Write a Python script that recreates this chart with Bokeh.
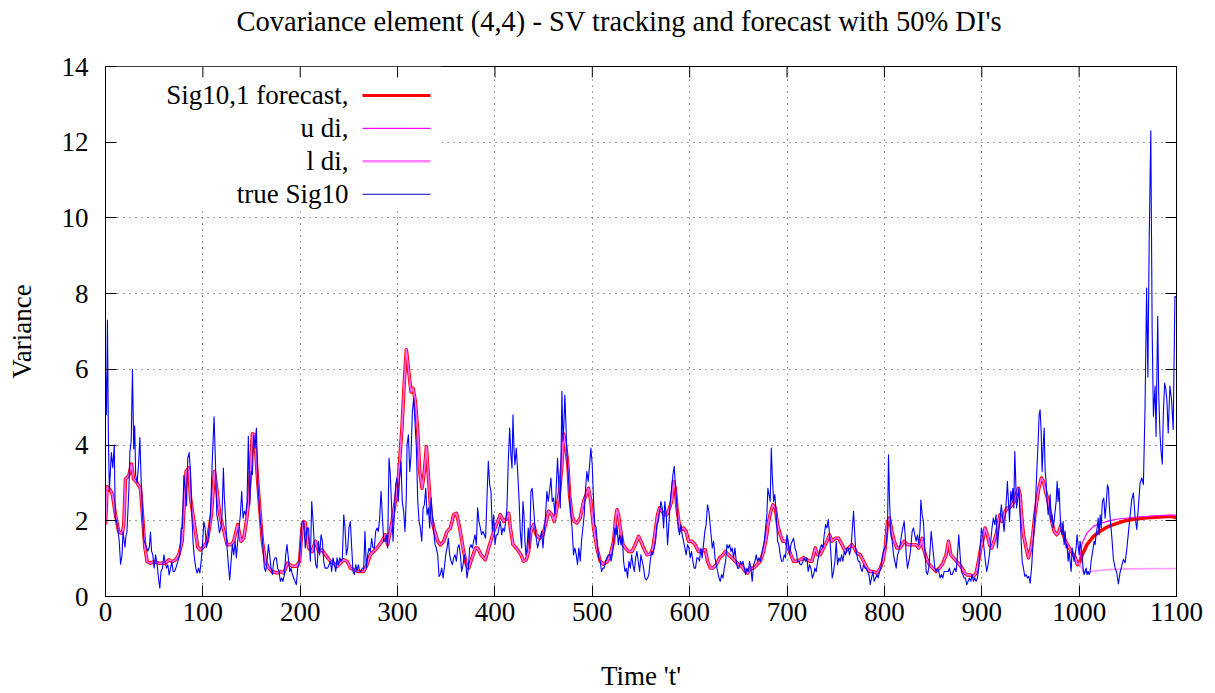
from bokeh.plotting import figure
from bokeh.models import Range1d, LinearAxis, SingleIntervalTicker, FixedTicker, Label, Title
from bokeh.embed import file_html
from bokeh.resources import INLINE

# ---- data -----------------------------------------------------------------
# true Sig10 (time, variance)
true_pts = [
    (0, 5.9), (1, 4.8), (2, 7.3), (3, 4.1), (4, 2.8), (6, 3.8), (7.5, 3.4), (9, 4.0), (10, 2.1), (12, 1.9),
    (14, 1.5), (15.5, 0.85), (17, 1.1), (18, 1.7), (20, 1.3), (21, 1.6), (22, 1.7), (24, 2.8), (25, 3.8),
    (26.4, 4.1), (27.7, 6.0), (29, 3.9), (30, 4.5), (31, 3.2), (32.5, 3.0), (34, 3.5), (35.3, 4.2), (36.7, 3.0),
    (38, 2.2), (39.4, 1.5), (40.8, 1.4), (42, 1.3), (43.5, 1.2), (45, 1.3), (46.2, 1.7), (47.3, 1.2), (48.6, 1.1),
    (50, 0.75), (51.4, 1.1), (53, 0.85), (54.4, 0.5), (55.8, 0.22), (57, 0.66), (58.5, 0.75), (60, 1.1),
    (61.3, 0.9), (62.7, 0.75), (64, 0.84), (65.4, 0.57), (66.8, 0.75), (68.1, 0.92), (69.5, 0.66), (70.9, 0.66),
    (72.2, 0.75), (74.3, 0.92), (76.3, 1.1), (77.7, 1.8), (79, 1.8), (80.5, 3.2), (81.8, 2.85), (83.2, 2.4),
    (84.5, 3.65), (85.9, 3.8), (87.3, 3.3), (88.7, 2.15), (90, 1.4), (91.4, 1.0), (92.8, 0.75), (94.1, 0.62),
    (95.5, 0.75), (96.9, 0.62), (98.2, 0.92), (99.6, 1.36), (101, 1.98), (102.3, 1.8), (103.7, 1.3), (105, 1.45),
    (106.4, 1.8), (107.8, 2.15), (109.5, 3.48), (111.5, 4.75), (112.9, 3.57), (114.3, 2.16), (115.6, 1.98),
    (117, 1.68), (118.4, 1.81), (119.7, 2.16), (121.1, 3.39), (122.1, 2.6), (123.5, 1.98), (124.9, 1.28),
    (126.2, 0.84), (127.6, 0.44), (129, 0.93), (130.3, 1.37), (131.7, 1.1), (133.1, 1.46), (134.4, 1.02),
    (135.8, 1.46), (137.2, 1.81), (138.5, 2.16), (139.9, 2.78), (141.3, 2.07), (142.6, 2.25), (144, 2.16),
    (145.4, 2.51), (146.7, 4.23), (148.1, 2.42), (149.5, 3.3), (150.9, 3.22), (152.2, 4.27), (153.6, 3.92),
    (155, 4.45), (156.3, 3.04), (157.7, 2.51), (159.1, 1.98), (160.4, 1.72), (161.8, 1.28), (163.2, 0.75),
    (164.5, 0.66), (165.9, 0.93), (167.3, 1.37), (168.6, 1.1), (170, 0.75), (171.4, 0.58), (172.7, 0.93),
    (174.1, 1.02), (175.5, 1.02), (176.8, 0.75), (178.2, 0.66), (179.6, 0.4), (181, 0.49), (182.3, 0.4),
    (183.7, 0.58), (185.1, 1.1), (186.4, 1.37), (187.8, 1.02), (189.2, 0.66), (190.5, 0.75), (191.9, 0.58),
    (193.3, 0.49), (194.6, 0.4), (196, 0.31), (197.4, 0.75), (198.7, 0.84), (200.1, 1.28), (201.8, 1.98),
    (203.5, 1.98), (205.2, 1.28), (206.9, 1.81), (208.6, 1.81), (210.4, 0.93), (211.8, 2.51), (213.2, 1.98),
    (214.6, 1.28), (215.9, 0.84), (217.3, 0.75), (218.7, 1.46), (220, 1.1), (221.4, 1.63), (222.8, 1.46),
    (224.1, 0.93), (225.5, 0.75), (226.9, 0.75), (228.2, 0.75), (229.6, 0.84), (231, 0.93), (232.3, 0.66),
    (233.7, 1.02), (235.1, 0.84), (236.5, 0.66), (237.8, 1.02), (239.2, 0.84), (240.6, 1.02), (241.9, 0.93),
    (243.3, 1.02), (244.7, 2.16), (246, 1.81), (247.4, 1.1), (248.8, 1.28), (250.1, 1.81), (251.5, 1.98),
    (252.9, 1.28), (254.2, 0.66), (255.6, 0.58), (257, 0.84), (258.3, 0.66), (259.7, 0.84), (261.1, 0.66),
    (262.4, 0.66), (263.8, 0.75), (265.2, 0.75), (266.5, 1.72), (267.9, 0.75), (269.3, 1.1), (270.6, 1.28),
    (272, 1.19), (273.4, 1.54), (274.7, 1.28), (276.1, 1.28), (277.5, 1.72), (278.9, 1.81), (280.2, 1.72),
    (281.6, 2.07), (283, 2.78), (284.3, 2.16), (285.7, 1.46), (287.1, 1.46), (288.4, 1.63), (289.8, 1.28),
    (291.2, 3.65), (292.5, 3.22), (293.9, 2.34), (295.3, 1.46), (296.6, 2.16), (298, 2.95), (299.4, 3.13),
    (300.7, 2.51), (302.1, 3.13), (303.5, 3.57), (304.8, 2.51), (306.2, 2.25), (307.6, 1.72), (308.9, 2.6),
    (309.7, 4.0), (311.1, 4.27), (312.5, 3.3), (313.8, 3.74), (315.2, 4.89), (316.6, 5.24), (318, 4.54),
    (319.3, 3.92), (320.7, 2.51), (322.1, 1.98), (323.4, 1.81), (324.8, 1.46), (326.2, 2.34), (327.5, 2.42),
    (328.9, 2.86), (330.3, 2.16), (331.6, 2.34), (333, 1.81), (334.4, 2.6), (335.7, 2.16), (337.1, 1.72),
    (338.5, 1.37), (339.8, 1.28), (341.2, 1.1), (342.6, 0.53), (343.9, 0.58), (345.3, 0.75), (346.7, 0.49),
    (348, 0.75), (349.4, 1.1), (350.8, 1.28), (352.1, 1.54), (353.5, 1.1), (354.9, 0.93), (356.3, 0.84),
    (357.6, 1.02), (359, 1.1), (360.4, 0.93), (361.7, 1.28), (363.1, 1.37), (364.5, 1.1), (365.8, 0.66),
    (367.2, 0.84), (368.6, 1.1), (369.9, 0.93), (371.3, 0.49), (372.7, 0.75), (374, 1.28), (375.4, 1.37),
    (376.8, 1.28), (378.1, 1.46), (379.5, 1.63), (380.9, 1.37), (382.2, 2.34), (383.6, 1.98), (385, 1.81),
    (386.3, 1.63), (387.7, 1.72), (389.1, 1.63), (390.4, 1.54), (391.8, 2.6), (393.2, 3.57), (394.6, 2.95),
    (395.9, 2.78), (397.3, 1.72), (398.7, 2.16), (400, 1.37), (401.4, 1.63), (402.8, 1.63), (404.1, 1.81),
    (405.5, 1.98), (406.9, 1.63), (408.2, 1.81), (409.6, 1.72), (411, 1.98), (412.3, 2.34), (413.7, 3.57),
    (415.1, 4.45), (416.4, 3.74), (417.5, 3.39), (418.5, 4.8), (419.5, 3.92), (420.5, 3.48), (421.9, 3.92),
    (423.3, 3.3), (424.7, 2.6), (426, 1.72), (427.4, 1.28), (428.8, 2.51), (429.8, 2.16), (430.8, 1.46),
    (431.8, 1.1), (432.9, 1.28), (434.2, 1.81), (435.6, 1.28), (437, 2.78), (438.3, 2.86), (439.7, 2.34),
    (441.1, 1.81), (442.4, 1.54), (443.8, 1.28), (445.2, 1.46), (446.5, 1.54), (447.9, 1.72), (449.3, 1.28),
    (450.6, 1.72), (452, 2.16), (453.4, 2.78), (454.7, 2.51), (456.1, 2.78), (457.5, 3.13), (458.8, 2.51),
    (460.2, 2.6), (461.6, 2.16), (462.9, 2.86), (464.3, 3.65), (465.7, 2.86), (467.1, 2.34), (468.1, 4.1),
    (468.8, 5.42), (469.8, 4.1), (470.8, 4.54), (471.8, 5.32), (472.9, 4.54), (473.9, 3.74), (475.3, 3.22),
    (476.6, 2.69), (478, 2.16), (479.4, 1.72), (480.7, 1.1), (482.1, 1.28), (483.5, 1.1), (484.8, 0.84),
    (486.2, 1.28), (487.6, 0.93), (488.9, 1.46), (490.3, 1.81), (491.7, 2.16), (493.1, 2.86), (494.4, 3.3),
    (495.8, 3.04), (497.2, 3.48), (498.5, 3.92), (499.9, 3.48), (501.3, 2.51), (502.6, 1.9), (504, 1.81),
    (505.4, 1.28), (506.7, 1.02), (508.1, 0.93), (509.5, 0.66), (510.8, 0.75), (512.2, 0.75), (513.6, 0.93),
    (514.9, 1.02), (516.6, 1.1), (518.4, 1.1), (519.1, 0.93), (520.5, 1.1), (521.9, 1.46), (523.2, 1.81),
    (524.6, 1.63), (525.3, 1.9), (526.7, 1.37), (528, 1.63), (529.4, 1.37), (530.8, 1.63), (532.1, 0.93),
    (533.5, 0.66), (534.9, 0.75), (536.2, 0.49), (537.6, 0.93), (539, 0.75), (540.4, 1.1), (541.7, 0.84),
    (543.1, 0.66), (544.5, 1.02), (545.8, 1.19), (547.2, 0.93), (548.6, 0.66), (549.9, 1.1), (551.3, 0.93),
    (552.7, 0.75), (554, 0.49), (555.4, 0.44), (556.8, 0.49), (558.1, 0.58), (559.5, 0.93), (560.9, 1.19),
    (562.2, 1.1), (563.6, 1.28), (565, 1.46), (566.3, 1.9), (567.7, 1.98), (569.1, 2.25), (570.4, 2.51),
    (571.8, 2.34), (573.2, 1.81), (574.5, 2.51), (575.9, 2.16), (577.3, 1.37), (578.6, 1.9), (580, 2.51),
    (581.4, 2.86), (582.8, 3.22), (584.1, 3.44), (585.5, 2.86), (586.9, 2.42), (588.2, 1.81), (589.6, 1.63),
    (591, 1.9), (592.3, 1.63), (593.7, 1.46), (595.1, 1.28), (596.4, 1.1), (597.8, 1.37), (599.2, 1.28),
    (600.5, 1.02), (601.9, 1.19), (603.3, 0.93), (604.6, 0.75), (606, 0.75), (607.4, 1.02), (608.7, 1.02),
    (610.1, 0.93), (611.5, 1.28), (612.8, 1.02), (614.2, 1.37), (615.6, 1.72), (616.9, 1.9), (618.3, 2.42),
    (619.7, 2.25), (621, 1.9), (623.2, 1.28), (624.6, 1.46), (626, 1.02), (627.3, 0.84), (628.7, 0.66),
    (630.1, 0.49), (631.4, 0.4), (632.8, 0.58), (634.2, 0.49), (635.5, 0.75), (636.9, 0.93), (638.3, 1.37),
    (639.6, 1.28), (641, 1.37), (642.4, 1.19), (643.7, 1.28), (645.1, 1.02), (646.5, 1.28), (647.8, 0.93),
    (649.2, 0.75), (650.6, 0.75), (651.9, 0.93), (653.3, 0.84), (654.7, 0.93), (656.1, 0.75), (657.4, 0.58),
    (658.8, 0.75), (660.2, 0.66), (661.5, 0.93), (662.9, 0.75), (664.2, 0.4), (665.6, 0.84), (667, 0.93),
    (668.3, 1.1), (669.7, 0.93), (671.1, 1.02), (672.5, 0.93), (673.8, 1.1), (675.2, 1.28), (676.6, 1.46),
    (677.9, 1.81), (679.3, 2.16), (680.3, 2.86), (682.7, 2.51), (683.8, 3.92), (684.8, 3.22), (686.2, 2.51),
    (687.5, 2.69), (688.9, 2.16), (690.3, 1.46), (691.6, 1.37), (693, 1.1), (694.4, 0.93), (695.7, 0.93),
    (697.1, 1.1), (698.5, 1.02), (699.9, 1.63), (701.2, 1.46), (702.6, 1.1), (704, 1.37), (705.3, 1.46),
    (706.7, 1.54), (708.1, 1.28), (709.4, 1.19), (710.8, 0.93), (712.2, 0.93), (713.5, 0.84), (714.9, 0.84),
    (716.3, 0.93), (717.6, 1.02), (719, 0.93), (720.4, 1.02), (721.7, 0.66), (723.1, 0.84), (724.5, 0.75),
    (725.9, 0.49), (727.3, 0.58), (728.6, 0.75), (730, 0.66), (731.4, 0.93), (732.7, 1.1), (734.1, 1.28),
    (735.5, 1.37), (736.9, 1.28), (738.2, 1.63), (739.6, 1.9), (741, 1.81), (742.3, 2.03), (743.7, 1.63),
    (745.1, 1.1), (746.4, 0.49), (747.8, 0.66), (749.2, 0.93), (750.5, 1.46), (751.9, 0.84), (753.3, 1.02),
    (754.6, 0.93), (756, 1.1), (757.4, 0.93), (758.8, 1.19), (760.1, 1.1), (761.5, 1.28), (762.9, 1.28),
    (764.2, 1.1), (765.6, 1.28), (766.9, 1.72), (768.3, 2.25), (769.4, 1.72), (770.4, 1.28), (771.7, 1.1),
    (773.1, 0.93), (774.5, 0.93), (775.8, 0.75), (777.2, 0.66), (778.6, 0.84), (780, 0.75), (781.3, 0.75),
    (782.7, 0.66), (784.1, 0.58), (785.4, 0.31), (786.8, 0.49), (788.2, 0.66), (789.5, 0.4), (790.9, 0.49),
    (792.3, 0.58), (793.6, 0.49), (795, 0.66), (796.4, 0.75), (797.7, 1.02), (799.1, 1.19), (800.5, 1.28),
    (801.8, 1.37), (803.2, 1.81), (804.2, 3.74), (805.3, 2.51), (806.6, 1.63), (808, 1.46), (809.4, 1.1),
    (810.7, 0.93), (812.1, 0.75), (813.5, 1.1), (814.8, 1.19), (816.2, 1.37), (817.6, 1.63), (818.9, 1.81),
    (820.3, 1.98), (821.3, 1.63), (822.4, 1.1), (823.7, 0.75), (825.1, 0.93), (825.8, 1.02), (827.1, 1.28),
    (828.5, 1.72), (829.9, 1.81), (831.2, 1.63), (832.6, 1.46), (834, 1.63), (835.4, 1.37), (836.7, 1.81),
    (837.4, 2.55), (838.8, 2.16), (840.1, 1.98), (841.5, 1.28), (842.9, 0.66), (844.2, 0.58), (845.6, 0.75),
    (847, 1.28), (848, 1.72), (849, 1.46), (850.4, 1.1), (851.8, 0.75), (853.1, 0.66), (854.5, 0.75),
    (855.9, 0.66), (857.2, 0.49), (858.6, 0.58), (860, 0.49), (861.3, 0.66), (862.7, 0.66), (864.1, 0.66),
    (865.5, 0.66), (866.8, 0.75), (868.2, 0.58), (869.6, 0.58), (870.9, 0.66), (872.3, 0.75), (873.7, 0.66),
    (875, 1.1), (876.4, 1.63), (877.7, 1.1), (879.1, 0.66), (880.5, 0.58), (881.8, 0.49), (883.2, 0.49),
    (884.6, 0.31), (885.9, 0.4), (887.3, 0.49), (888.7, 0.4), (890, 0.58), (891.4, 0.4), (892.8, 0.49),
    (894.2, 0.4), (895.5, 0.49), (896.9, 0.75), (898.3, 1.28), (899.6, 1.81), (901, 1.63), (902.3, 1.28),
    (903.7, 0.93), (905.1, 0.66), (906.4, 0.84), (907.8, 1.1), (909.2, 1.46), (910.5, 1.81), (911.9, 2.07),
    (913.3, 1.9), (914.7, 2.16), (916, 1.28), (917.4, 1.72), (918.8, 2.07), (920.1, 2.42), (921.5, 2.07),
    (922.9, 1.72), (924.2, 2.16), (925.6, 2.69), (926.3, 3.04), (928.5, 1.98), (929.8, 2.78), (930.9, 2.51),
    (931.9, 2.86), (932.9, 2.34), (933.9, 3.83), (934.6, 3.3), (935.7, 2.34), (936.7, 2.51), (938.1, 2.86),
    (939.4, 2.16), (940.5, 1.46), (941.5, 0.93), (942.8, 0.75), (944.2, 0.53), (945.6, 0.58), (946.9, 0.49),
    (948.3, 0.53), (949.7, 0.35), (951.1, 0.75), (952.4, 1.28), (953.8, 1.81), (955.2, 2.51), (956.5, 3.3),
    (957.9, 4.1), (958.9, 4.8), (959.9, 4.93), (961, 4.36), (962, 3.3), (963, 3.92), (964.1, 4.45),
    (965.1, 3.3), (966.1, 3.04), (967.1, 2.51), (968.2, 2.16), (969.2, 2.34), (970.2, 2.69), (971.2, 1.98),
    (972.2, 2.16), (973.3, 1.81), (974.3, 1.98), (975.3, 2.25), (976.4, 2.51), (977.4, 3.04), (978.4, 2.51),
    (979.4, 2.86), (980.5, 2.16), (981.5, 1.72), (982.5, 1.63), (983.5, 1.98), (984.6, 1.37), (985.6, 1.72),
    (986.6, 1.28), (987.6, 1.37), (988.7, 0.93), (989.7, 1.19), (990.7, 0.93), (991.8, 0.66), (992.8, 1.28),
    (993.8, 1.1), (994.8, 0.93), (995.9, 1.1), (996.9, 1.28), (997.9, 1.63), (998.9, 1.37), (1000, 1.1),
    (1001, 1.46), (1002, 1.28), (1003.1, 1.02), (1004.1, 0.75), (1005.1, 0.58), (1006.1, 0.66), (1007.2, 0.75),
    (1008.2, 0.58), (1009.2, 0.66), (1010.3, 0.58), (1011.3, 0.66), (1012.3, 0.93), (1013.3, 1.1),
    (1014.4, 1.28), (1015.4, 1.46), (1016.4, 1.37), (1017.4, 1.63), (1018.5, 1.81), (1019.5, 2.07),
    (1020.5, 1.63), (1021.6, 2.16), (1022.6, 1.81), (1023.9, 2.51), (1025.3, 2.6), (1026.7, 2.07), (1028, 2.51),
    (1029.1, 2.95), (1030.1, 2.86), (1031.1, 2.34), (1033.5, 1.59), (1035.2, 0.98), (1036.9, 0.76),
    (1038.6, 0.63), (1040.3, 0.33), (1042, 0.63), (1043.7, 0.8), (1045.5, 0.98), (1047.2, 0.89), (1048.9, 1.24),
    (1050.6, 1.68), (1052.3, 2.12), (1054, 2.56), (1055.7, 2.73), (1057.4, 2.12), (1059.2, 1.77), (1060.9, 2.38),
    (1062.6, 3.0), (1064.3, 3.13), (1066, 2.96), (1067.7, 5.0), (1069.3, 8.15), (1070.6, 5.8), (1072, 9.5),
    (1073.6, 12.3), (1075, 7.0), (1076.3, 4.76), (1078, 5.56), (1079, 4.23), (1080.7, 7.4), (1081.7, 5.38),
    (1083, 4.32), (1084, 3.88), (1085.4, 3.5), (1086.4, 4.76), (1087.8, 5.64), (1089.1, 5.47), (1090.1, 5.2),
    (1091.5, 4.32), (1093.2, 5.56), (1094.9, 5.2), (1096.6, 4.41), (1098.4, 7.93), (1099.6, 7.9),
]

# Sig10,1 tracking (t <= 1000)
track_pts = [
    (0, 1.9), (1.7, 2.9), (5.1, 2.8), (7, 2.7), (10.3, 2.15), (13.7, 1.7), (17.1, 1.67), (18.8, 1.9),
    (20.5, 3.1), (24, 3.2), (26.7, 3.5), (29, 3.1), (32.5, 3.0), (36, 2.85), (38, 2.15), (40.4, 1.3),
    (42.8, 0.92), (46.2, 0.88), (49.7, 0.92), (54.8, 0.88), (61.6, 0.88), (65, 0.97), (68.5, 0.92), (72, 0.97),
    (75.3, 1.1), (78.7, 1.45), (81, 2.5), (82.8, 3.3), (85.6, 3.4), (87.3, 2.6), (90.7, 2.0), (94.8, 1.3),
    (97.5, 1.23), (101, 1.32), (104.4, 1.45), (108.8, 2.16), (111.9, 3.3), (114.6, 2.78), (117.3, 2.16),
    (120.8, 1.81), (124.9, 1.37), (129, 1.37), (131.7, 1.46), (135.8, 1.9), (139.2, 1.46), (142, 1.54),
    (144.7, 1.98), (147.1, 2.51), (149.5, 3.65), (150.9, 4.3), (153.2, 4.27), (155.6, 3.3), (158.4, 2.34),
    (161.1, 1.46), (164.2, 0.93), (167.6, 0.75), (171, 0.66), (176.2, 0.62), (179.6, 0.66), (183, 0.62),
    (187.1, 0.88), (191.6, 0.8), (196, 0.8), (199.4, 0.93), (201.8, 1.81), (203.5, 1.98), (205.2, 1.94),
    (208.6, 1.28), (212.2, 1.19), (215.6, 1.46), (219, 1.19), (222.4, 1.23), (225.9, 1.1), (231, 0.93),
    (234.4, 0.88), (237.8, 0.79), (244.7, 0.97), (248.1, 0.93), (251.5, 0.75), (254.9, 0.71), (260, 0.66),
    (265.2, 0.66), (268.6, 0.84), (272, 1.1), (275.4, 1.19), (278.9, 1.28), (284, 1.46), (287.4, 1.63),
    (289.8, 1.37), (294.3, 1.98), (297.7, 2.51), (301.1, 3.22), (304.5, 4.45), (306.9, 5.68), (309, 6.52),
    (311.5, 5.94), (313.8, 5.4), (315.9, 5.5), (318.3, 5.15), (320.7, 4.36), (322.7, 3.3), (325.1, 2.86),
    (327.5, 3.3), (329.6, 3.96), (332, 3.04), (334.4, 2.16), (337.1, 1.81), (341.2, 1.46), (343.9, 1.36),
    (347.4, 1.46), (350.8, 1.72), (354.2, 1.81), (357.6, 2.16), (360.4, 2.2), (363.8, 1.81), (367.2, 1.28),
    (370.6, 0.84), (373, 0.75), (376.4, 1.02), (379.9, 1.28), (382.2, 1.28), (385.7, 1.1), (390.1, 0.97),
    (393.5, 1.28), (398.7, 1.72), (402.8, 1.98), (405.5, 2.16), (409, 1.98), (412.3, 2.07), (414.1, 2.2),
    (415.8, 1.81), (418.5, 1.37), (421.9, 1.28), (426.7, 1.1), (429.4, 0.93), (432.2, 0.97), (434.6, 1.19),
    (437, 1.72), (439.7, 1.9), (442.4, 1.63), (445.9, 1.54), (449.3, 1.63), (452.7, 1.98), (455.1, 2.25),
    (458.5, 2.16), (460.9, 1.98), (463.6, 2.34), (466.4, 2.78), (468.8, 3.48), (470.5, 4.3), (472.9, 3.92),
    (474.9, 3.48), (476.6, 2.69), (479, 2.16), (481.4, 1.98), (484.2, 1.94), (487.6, 2.07), (491, 2.51),
    (493.7, 2.69), (496.1, 2.86), (498.5, 2.51), (501.3, 1.81), (504.7, 1.28), (508.1, 0.93), (511.5, 0.85),
    (515.7, 0.93), (518.5, 1.1), (521.9, 1.46), (523.6, 1.98), (525.3, 2.29), (527, 2.16), (528.7, 1.81),
    (531.5, 1.37), (533.9, 1.28), (537.3, 1.19), (540.7, 1.19), (544.1, 1.37), (547.5, 1.59), (549.9, 1.46),
    (552.7, 1.28), (556.1, 1.1), (559.5, 1.12), (562.2, 1.28), (564.6, 1.72), (567, 2.16), (569.1, 2.34),
    (571.5, 2.25), (573.9, 2.16), (576.6, 2.16), (579.3, 2.34), (581.4, 2.51), (583.4, 3.04), (585.2, 2.86),
    (586.9, 2.34), (588.9, 1.98), (590.9, 1.76), (593.7, 1.81), (596.4, 1.72), (598.8, 1.46), (602.2, 1.46),
    (605.6, 1.37), (609, 1.19), (612.3, 1.19), (616, 1.24), (618.4, 0.93), (621.2, 0.75), (623.9, 0.75),
    (627.3, 0.84), (630.7, 1.02), (634.2, 1.1), (636.6, 1.19), (640, 1.1), (643.4, 1.02), (646.8, 0.93),
    (650.2, 0.84), (653.7, 0.8), (657.1, 0.66), (659.5, 0.62), (662.2, 0.75), (665.6, 0.75), (669, 0.84),
    (672.5, 0.93), (675.9, 1.19), (678.6, 1.54), (681, 1.98), (683.4, 2.25), (685.5, 2.42), (687.9, 2.34),
    (690.2, 1.9), (693, 1.63), (695.7, 1.46), (699.1, 1.46), (701.2, 1.28), (703.9, 1.1), (706.7, 0.93),
    (710.1, 0.93), (713.5, 0.97), (717, 1.02), (720.4, 0.97), (723.8, 0.93), (725.6, 0.93), (729, 1.28),
    (731.4, 1.1), (734.1, 1.1), (737.5, 1.28), (741, 1.46), (743.7, 1.63), (746.1, 1.46), (749.5, 1.54),
    (752.9, 1.54), (756.4, 1.37), (759.8, 1.19), (763.2, 1.28), (766.6, 1.37), (769, 1.28), (771.7, 1.15),
    (775.2, 1.1), (778.6, 0.93), (782, 0.75), (785.4, 0.66), (788.8, 0.66), (792.3, 0.62), (795.7, 0.75),
    (798.4, 0.93), (800.8, 1.28), (803.2, 1.98), (805.3, 2.07), (807.7, 1.72), (810.1, 1.46), (812.8, 1.28),
    (815.9, 1.28), (818.3, 1.37), (820.3, 1.46), (823.7, 1.37), (826.5, 1.37), (829.9, 1.37), (832.6, 1.37),
    (835, 1.28), (837.4, 1.37), (838.8, 1.54), (840.1, 1.28), (842.9, 1.02), (846.3, 0.84), (849.7, 0.75),
    (853.1, 0.66), (856.6, 0.75), (860, 0.88), (863.4, 1.1), (865.8, 1.46), (868.2, 1.1), (870.9, 1.02),
    (874.3, 0.93), (877.1, 0.84), (879.8, 0.75), (882.5, 0.62), (884.6, 0.57), (888, 0.57), (891.4, 0.53),
    (894.2, 0.62), (896.6, 0.93), (899, 1.28), (900.9, 1.46), (903.4, 1.81), (905.8, 1.63), (907.9, 1.37),
    (910.3, 1.28), (914.7, 1.63), (916.8, 1.9), (918.8, 2.16), (920.9, 1.98), (924, 2.25), (926.4, 2.34),
    (928.5, 2.34), (930.9, 2.42), (933.3, 2.51), (935.3, 2.69), (937.7, 2.86), (939.4, 2.69), (940.8, 2.16),
    (942.8, 1.63), (945.6, 1.28), (948, 1.02), (950.4, 1.28), (952.4, 1.63), (954.5, 2.16), (956.5, 2.51),
    (958.6, 2.86), (961.3, 3.13), (963.4, 3.04), (965.4, 2.78), (967.5, 2.6), (969.5, 2.34), (971.9, 1.98),
    (974.3, 1.72), (977, 1.63), (979.1, 1.72), (981.5, 1.9), (983.9, 1.63), (985.9, 1.46), (988, 1.37),
    (990, 1.28), (992.1, 1.19), (994.2, 1.1), (996.2, 1.02), (998.3, 0.84), (1000, 0.88),
]

# forecast (t >= 1000) and its 50% interval bounds
forecast_pts = [
    (1000, 0.88), (1004, 1.15), (1008, 1.37), (1014.7, 1.59), (1021.8, 1.73), (1028.6, 1.83), (1035.2, 1.9),
    (1042, 1.96), (1048.9, 2.01), (1059, 2.05), (1069.3, 2.08), (1083, 2.1), (1093, 2.12), (1098, 2.1),
    (1100, 2.08),
]
upper_pts = [
    (1000, 0.95), (1003, 1.4), (1008, 1.68), (1015, 1.86), (1025, 1.96), (1038, 2.04), (1059, 2.1),
    (1083, 2.14), (1100, 2.15),
]
lower_pts = [
    (1000, 0.55), (1005, 0.62), (1015, 0.67), (1030, 0.71), (1050, 0.73), (1100, 0.74),
]

x_ticks = list(range(0, 1101, 100))

TITLE = "Covariance element (4,4) - SV tracking and forecast with 50% DI's"
X_LABEL = "Time 't'"
Y_LABEL = "Variance"

# ---- styling ----------------------------------------------------------------
FONT = "Liberation Serif"
FS = "27px"
W, H = 1215, 693
ML, MR, MT, MB = 105, 39, 66, 96
TICK = 11

RED = "#ff0000"
MAGENTA = "#ff00ff"
PINK = "#ff80ff"
BLUE = "#0000ff"


def unzip(pts):
    return [a for a, _ in pts], [b for _, b in pts]


def px_x(px):
    return (px - ML) * 1100 / (W - ML - MR)


def px_y(py):
    return (H - MB - py) * 14 / (H - MT - MB)


p = figure(width=W, height=H, x_range=Range1d(0, 1100), y_range=Range1d(0, 14),
           output_backend="svg", toolbar_location=None, title_location=None,
           min_border_left=ML, min_border_right=MR, min_border_top=MT, min_border_bottom=MB,
           background_fill_color="white", border_fill_color="white")

p.outline_line_color = "black"
p.outline_line_width = 1
p.outline_line_alpha = 1

# the figure's own bottom and left axes
xa = p.below[0]
ya = p.left[0]

xt = SingleIntervalTicker(interval=100, num_minor_ticks=0)
yt = SingleIntervalTicker(interval=2, num_minor_ticks=0)
xa.ticker = xt
ya.ticker = yt
for ax, lab in ((xa, X_LABEL), (ya, Y_LABEL)):
    ax.axis_label = lab
    ax.axis_label_text_font = FONT
    ax.axis_label_text_font_style = "normal"
    ax.axis_label_text_font_size = FS
    ax.axis_label_text_color = "black"
    ax.major_label_text_font = FONT
    ax.major_label_text_font_size = FS
    ax.major_label_text_color = "black"
    ax.major_tick_in = TICK
    ax.major_tick_out = 0
    ax.minor_tick_in = 0
    ax.minor_tick_out = 0
    ax.axis_line_color = "black"
    ax.major_tick_line_color = "black"
xa.major_label_standoff = 6
xa.axis_label_standoff = 37
ya.major_label_standoff = 17
ya.axis_label_standoff = 22

# empty band next to the top border, then the title above it
spacer = LinearAxis(ticker=FixedTicker(ticks=[550]), major_tick_in=0, major_tick_out=30,
                    minor_tick_in=0, minor_tick_out=0, major_label_text_font_size="0px",
                    major_label_text_color=None, major_label_standoff=0,
                    axis_line_color=None, major_tick_line_color=None, minor_tick_line_color=None)
p.add_layout(spacer, "above")
p.add_layout(Title(text=TITLE, text_font=FONT, text_font_style="normal", text_font_size="28.5px",
                   text_color="black", align="left", offset=131, standoff=0), "above")

# mirrored ticks on the right border (no labels)
p.add_layout(LinearAxis(ticker=SingleIntervalTicker(interval=2, num_minor_ticks=0),
                        major_label_text_font_size="0px", major_label_text_color=None,
                        major_label_standoff=0, major_tick_in=TICK, major_tick_out=0,
                        minor_tick_in=0, minor_tick_out=0,
                        axis_line_color="black", major_tick_line_color="black"), "right")

for g, tk in ((p.xgrid[0], xt), (p.ygrid[0], yt)):
    g.ticker = tk
    g.grid_line_color = "black"
    g.grid_line_alpha = 0.75
    g.grid_line_width = 1
    g.grid_line_dash = "1 5"

# opaque key area (hides the grid behind the key)
p.quad(left=[px_x(ML)], right=[px_x(441)], top=[px_y(MT)], bottom=[px_y(211)],
       fill_color="white", line_color=None)

# mirrored ticks on the top border
top_len = 14 - px_y(MT + TICK)
p.segment(x0=x_ticks, y0=[14] * len(x_ticks), x1=x_ticks, y1=[14 - top_len] * len(x_ticks),
          line_color="black", line_width=1)

# ---- series -------------------------------------------------------------------
tt, tv = unzip(track_pts)
ft, fv = unzip(forecast_pts)
ut, uv = unzip(upper_pts)
lt, lv = unzip(lower_pts)
bt, bv = unzip(true_pts)

p.line(tt + ft[1:], tv + fv[1:], line_color=RED, line_width=3.5, line_join="round")
p.line(tt + ut[1:], tv + uv[1:], line_color=MAGENTA, line_width=1.2, line_join="round")
p.line(tt + lt[1:], tv + lv[1:], line_color=PINK, line_width=1.6, line_join="round", line_alpha=0.8)
p.line(bt, bv, line_color=BLUE, line_width=1.1, line_join="round")

# ---- key ----------------------------------------------------------------------
key_rows = [("Sig10,1 forecast,", RED, 3), ("u di,", MAGENTA, 1.2),
            ("l di,", PINK, 2.5), ("true Sig10", "#0000c8", 1.2)]
for i, (name, col, lw) in enumerate(key_rows):
    yc = 95 + i * 33
    p.add_layout(Label(x=px_x(348), y=px_y(yc), text=name, text_align="right",
                       text_baseline="middle", text_font=FONT, text_font_size=FS,
                       text_color="black"))
    p.segment(x0=[px_x(362)], y0=[px_y(yc)], x1=[px_x(430)], y1=[px_y(yc)],
              line_color=col, line_width=lw)

open("out.html", "w").write(file_html(p, INLINE))
